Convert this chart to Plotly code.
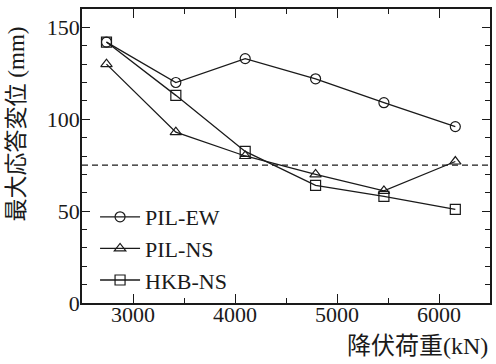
import plotly.graph_objects as go

x_load = [2740, 3420, 4100, 4790, 5460, 6160]
pil_ew = [142, 120, 133, 122, 109, 96]
pil_ns = [130, 93, 80, 70, 61, 77]
hkb_ns = [142, 113, 82.5, 64, 58, 51]
limit_value = 75
series_names = ["PIL-EW", "PIL-NS", "HKB-NS"]
x_title = "降伏荷重(kN)"
y_title = "最大応答変位 (mm)"

FONT = "Liberation Serif, Times New Roman, serif"
FONT_MIX = "Liberation Serif, Noto Sans CJK JP"
INK = "#1a1a1a"

fig = go.Figure()
for name, vals, sym in zip(series_names, [pil_ew, pil_ns, hkb_ns],
                           ["circle-open", "triangle-up-open", "square-open"]):
    fig.add_trace(go.Scatter(
        x=x_load, y=vals, name=name, mode="lines+markers",
        line=dict(color=INK, width=1.3),
        marker=dict(symbol=sym, size=10, color=INK, line=dict(width=1.2, color=INK)),
    ))

fig.add_shape(type="line", xref="paper", x0=0, x1=1, yref="y", y0=limit_value, y1=limit_value,
              line=dict(color=INK, width=1.3, dash="6px,4px"))

axis_common = dict(
    showgrid=False, zeroline=False, showline=True, linecolor=INK, linewidth=1.5,
    mirror="allticks", ticks="inside", tickcolor=INK, tickwidth=1.2,
)
fig.update_xaxes(range=[2500, 6500], tickvals=[3000, 4000, 5000, 6000], ticklen=9,
                 minor=dict(ticks="inside", dtick=500, ticklen=5, tickcolor=INK, tickwidth=1.2),
                 ticklabelstandoff=-9,
                 tickfont=dict(family=FONT, size=22, color=INK), **axis_common)
fig.update_yaxes(range=[0, 160], tickvals=[0, 50, 100, 150], ticklen=8,
                 minor=dict(ticks="inside", dtick=10, ticklen=5, tickcolor=INK, tickwidth=1.2),
                 ticklabelstandoff=-4,
                 tickfont=dict(family=FONT, size=22, color=INK), **axis_common)

fig.add_annotation(text=x_title, xref="paper", yref="paper", x=1.0, y=-0.145,
                   xanchor="right", yanchor="middle", showarrow=False,
                   font=dict(family=FONT_MIX, size=24, color=INK))
fig.add_annotation(text=y_title, xref="paper", yref="paper", x=-0.16, y=0.61,
                   xanchor="center", yanchor="middle", textangle=-90, showarrow=False,
                   font=dict(family=FONT_MIX, size=23, color=INK))

fig.update_layout(
    width=496, height=364,
    margin=dict(l=82, r=4, t=9, b=61),
    paper_bgcolor="white", plot_bgcolor="white",
    font=dict(family=FONT, color=INK),
    showlegend=True,
    legend=dict(x=0.032, y=0.364, xanchor="left", yanchor="top",
                bgcolor="rgba(0,0,0,0)", font=dict(family=FONT, size=22, color=INK),
                tracegroupgap=0, itemwidth=40),
)

fig.write_html("out.html")
